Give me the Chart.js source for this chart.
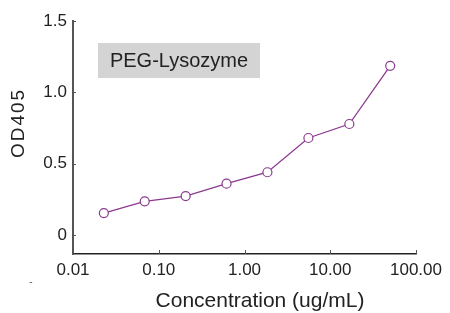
<!DOCTYPE html>
<html>
<head>
<meta charset="utf-8">
<script src="https://cdn.jsdelivr.net/npm/chart.js@4"></script>
<style>
  html, body { margin: 0; padding: 0; background: #fff; }
  #wrap { width: 450px; height: 313px; }
</style>
</head>
<body>
<div id="wrap"><canvas id="chart" width="450" height="313"></canvas></div>
<script>
// data (3-fold dilution series)
const concentrations = [0.0229, 0.0686, 0.206, 0.617, 1.85, 5.56, 16.7, 50];
const od405 = [0.154, 0.236, 0.273, 0.36, 0.44, 0.68, 0.778, 1.186];
const xTicks = [0.01, 0.1, 1, 10, 100];
const xTickLabels = ["0.01", "0.10", "1.00", "10.00", "100.00"];
const yTicks = [0, 0.5, 1.0, 1.5];
const yTickLabels = ["0", "0.5", "1.0", "1.5"];

const purple = "#8b3a8f";
const font = "Arial, 'Liberation Sans', sans-serif";

// inward tick marks, axis titles and the label box
const extras = {
  id: "extras",
  afterDraw(chart) {
    const ctx = chart.ctx;
    const x = chart.scales.x, y = chart.scales.y;
    const area = chart.chartArea;
    ctx.save();
    ctx.strokeStyle = "#555";
    ctx.lineWidth = 1;
    xTicks.forEach(v => {
      const px = Math.round(x.getPixelForValue(v)) + 0.5;
      ctx.beginPath();
      ctx.moveTo(px, area.bottom);
      ctx.lineTo(px, area.bottom - 4);
      ctx.stroke();
    });
    yTicks.forEach(v => {
      const py = Math.round(y.getPixelForValue(v)) + 0.5;
      ctx.beginPath();
      ctx.moveTo(area.left, py);
      ctx.lineTo(area.left + 3, py);
      ctx.stroke();
    });

    // PEG-Lysozyme box
    ctx.fillStyle = "#d4d4d4";
    ctx.fillRect(98, 43, 162, 35);
    ctx.fillStyle = "#222";
    ctx.font = "20px " + font;
    ctx.textAlign = "center";
    ctx.textBaseline = "middle";
    ctx.fillText("PEG-Lysozyme", 179, 61);

    // axis titles
    ctx.font = "21px " + font;
    ctx.fillText("Concentration (ug/mL)", 260, 301);
    ctx.save();
    ctx.translate(19, 124);
    ctx.rotate(-Math.PI / 2);
    ctx.font = "19px " + font;
    ctx.letterSpacing = "2px";
    ctx.fillText("OD405", 1, 0);
    ctx.restore();

    // stray dash under the axis
    ctx.font = "10px " + font;
    ctx.fillStyle = "#555";
    ctx.fillText("-", 31, 282);
    ctx.restore();
  }
};

new Chart(document.getElementById("chart"), {
  type: "line",
  data: {
    datasets: [{
      data: concentrations.map((c, i) => ({ x: c, y: od405[i] })),
      borderColor: purple,
      borderWidth: 1.3,
      pointRadius: 4.5,
      pointBackgroundColor: "#fff",
      pointBorderColor: purple,
      pointBorderWidth: 1.2,
      tension: 0
    }]
  },
  options: {
    responsive: false,
    animation: false,
    layout: { padding: { top: 21, right: 34, left: 0, bottom: 0 } },
    plugins: { legend: { display: false }, tooltip: { enabled: false } },
    scales: {
      x: {
        type: "logarithmic",
        min: 0.01,
        max: 100,
        afterBuildTicks: s => { s.ticks = xTicks.map(v => ({ value: v })); },
        afterFit: s => { s.height = 59; },
        border: { color: "#222", width: 1.5 },
        grid: { display: false, drawTicks: false },
        ticks: {
          color: "#222",
          font: { family: font, size: 17 },
          padding: 6,
          maxRotation: 0,
          callback: (v) => xTickLabels[xTicks.indexOf(v)]
        }
      },
      y: {
        min: -0.133,
        max: 1.5,
        afterBuildTicks: s => { s.ticks = yTicks.map(v => ({ value: v })); },
        afterFit: s => { s.width = 73; },
        border: { color: "#555", width: 2 },
        grid: { display: false, drawTicks: false },
        ticks: {
          color: "#222",
          font: { family: font, size: 17 },
          padding: 6,
          callback: (v) => yTickLabels[yTicks.indexOf(v)]
        }
      }
    }
  },
  plugins: [extras]
});
</script>
</body>
</html>
